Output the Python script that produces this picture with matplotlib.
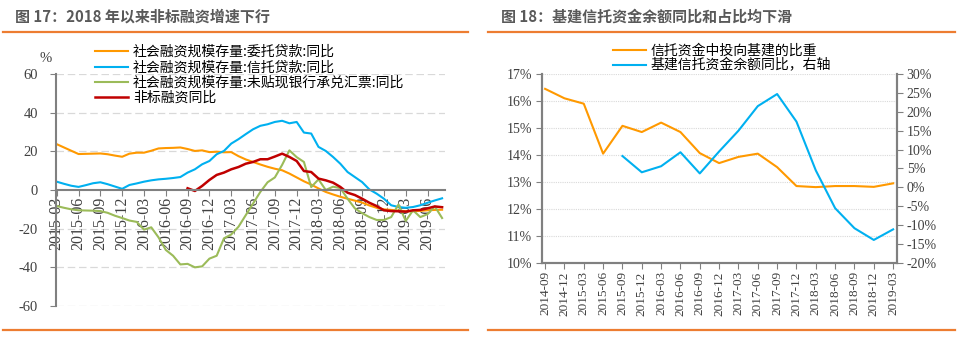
import numpy as np
import matplotlib
matplotlib.use("Agg")
import matplotlib.pyplot as plt
from matplotlib.lines import Line2D

plt.rcParams['font.family'] = ['Noto Sans CJK SC', 'DejaVu Sans']
plt.rcParams['axes.unicode_minus'] = False

# ---- data, figure 17 (monthly, 2015-03 .. 2019-08) ----
months = [f"{y}-{m:02d}" for y in range(2015, 2020) for m in range(1, 13)][2:2 + 54]
entrust = [23.7, 22.0, 20.3, 18.6, 18.7, 18.8, 18.9, 18.5, 17.8, 17.2, 18.8, 19.3,
           19.3, 20.3, 21.5, 21.7, 21.8, 22.0, 21.2, 20.2, 20.5, 19.6, 19.8, 19.5,
           19.6, 17.5, 15.8, 14.5, 13.2, 12.0, 11.0, 10.2, 8.5, 6.5, 4.5, 2.8,
           0.8, -1.0, -2.3, -3.5, -4.5, -5.5, -6.5, -8.0, -9.2, -10.0, -10.3, -10.6,
           -11.0, -11.0, -10.8, -10.5, -10.3, -10.2]
trust = [4.3, 3.2, 2.2, 1.6, 2.5, 3.5, 4.0, 3.0, 1.8, 0.6, 2.6, 3.4,
         4.3, 5.0, 5.5, 5.8, 6.2, 6.7, 9.0, 10.7, 13.3, 15.0, 18.5, 20.2,
         24.0, 26.3, 28.9, 31.4, 33.2, 34.0, 35.2, 35.8, 34.5, 35.2, 29.7, 29.2,
         22.3, 20.2, 17.1, 13.6, 9.3, 6.7, 4.1, 0.3, -1.9, -4.5, -7.9, -8.8,
         -9.2, -8.8, -7.9, -6.6, -5.4, -4.3]
bills = [-8.3, -9.2, -10.0, -10.5, -10.6, -10.7, -10.9, -11.8, -13.3, -14.5, -15.8, -16.5,
         -20.5, -19.3, -24.5, -31.0, -34.0, -38.5, -38.2, -40.0, -39.5, -35.5, -34.0, -25.0,
         -23.0, -19.0, -13.0, -7.0, -1.0, 4.0, 6.5, 13.0, 20.5, 17.0, 14.5, 1.5,
         5.5, 0.0, 1.7, 1.0, -4.5, -9.5, -12.0, -14.0, -15.5, -15.5, -14.0, -7.5,
         -16.0, -10.5, -14.0, -12.5, -8.5, -14.5]
nonstd = [np.nan] * 18 + [0.9, -0.5, 2.1, 5.2, 7.8, 9.0,
          10.7, 11.9, 13.6, 14.5, 15.9, 15.9, 17.3, 18.8, 17.1, 15.0, 9.8, 9.3,
          5.9, 5.0, 3.8, 1.6, -1.4, -2.6, -4.5, -6.6, -8.3, -10.5, -10.9, -11.0,
          -11.2, -10.5, -10.3, -9.5, -8.5, -8.9]

# ---- data, figure 18 (quarterly, 2014-09 .. 2019-03) ----
quarters = ["2014-09", "2014-12", "2015-03", "2015-06", "2015-09", "2015-12",
            "2016-03", "2016-06", "2016-09", "2016-12", "2017-03", "2017-06",
            "2017-09", "2017-12", "2018-03", "2018-06", "2018-09", "2018-12", "2019-03"]
infra_share = [16.45, 16.1, 15.9, 14.05, 15.08, 14.85, 15.2, 14.85, 14.07, 13.7,
               13.93, 14.05, 13.55, 12.85, 12.81, 12.85, 12.85, 12.82, 12.95]
infra_yoy = [np.nan, np.nan, np.nan, np.nan, 8.3, 4.0, 5.6, 9.3, 3.7, 9.5,
             15.0, 21.5, 24.7, 17.4, 4.5, -5.5, -10.8, -13.9, -11.1]

ORANGE = '#FF9900'
BLUE = '#00B0F0'
GREEN = '#9BBB59'
RED = '#C00000'
RULE = '#ED7D31'
AXC = '#808080'
TXT = '#404040'
SERIF = 'Liberation Serif'

W, H = 969, 347
fig = plt.figure(figsize=(W / 100, H / 100), dpi=100)


def box(x0, y0, x1, y1):
    return [x0 / W, 1 - y1 / H, (x1 - x0) / W, (y1 - y0) / H]


# titles and orange rules
fig.text(15 / W, 1 - 17 / H, "图 17：2018 年以来非标融资增速下行", fontsize=10.8,
         fontweight='bold', color='#595959', va='center', ha='left')
fig.text(501 / W, 1 - 17 / H, "图 18：基建信托资金余额同比和占比均下滑", fontsize=10.8,
         fontweight='bold', color='#595959', va='center', ha='left')
for x0, x1 in [(3, 468), (488, 955)]:
    for yy in (32, 330):
        fig.add_artist(Line2D([x0 / W, x1 / W], [1 - yy / H] * 2, color=RULE, lw=1.6))

# ---------------- figure 17 ----------------
ax = fig.add_axes(box(56, 74, 445, 306))
x = np.arange(len(months))
ax.plot(x, entrust, color=ORANGE, lw=1.5, label="社会融资规模存量:委托贷款:同比")
ax.plot(x, trust, color=BLUE, lw=1.5, label="社会融资规模存量:信托贷款:同比")
ax.plot(x, bills, color=GREEN, lw=1.5, label="社会融资规模存量:未贴现银行承兑汇票:同比")
ax.plot(x, nonstd, color=RED, lw=1.8, label="非标融资同比")
ax.set_xlim(-0.1, 53.4)
ax.set_ylim(-60, 60)
ax.set_yticks(range(-60, 61, 20))
for v in (-60, -40, -20, 20, 40, 60):
    ax.axhline(v, color='#D9D9D9', lw=0.9, ls=(0, (6, 3)), zorder=0)
for s in ('top', 'right'):
    ax.spines[s].set_visible(False)
ax.spines['bottom'].set_position(('data', 0))
for s in ('left', 'bottom'):
    ax.spines[s].set_color(AXC)
    ax.spines[s].set_linewidth(1.5)
ax.set_xticks(x[::3])
ax.set_xticklabels(months[::3], rotation=90, family=SERIF, fontsize=11.5, color=TXT)
ax.tick_params(axis='x', direction='out', length=4, color=AXC, pad=1)
ax.tick_params(axis='y', direction='out', length=4, color=AXC, pad=9,
               labelsize=10.5, labelcolor=TXT)
for t in ax.get_yticklabels():
    t.set_family(SERIF)
ax.text(46 / W, 1 - 59 / H, "%", transform=fig.transFigure, family=SERIF,
        fontsize=10.5, color=TXT, ha='center', va='center')
ax.legend(loc='upper left', bbox_to_anchor=(0.1, 1.125), frameon=False, fontsize=10,
          borderpad=0, borderaxespad=0, handlelength=2.4, handletextpad=0.35,
          labelspacing=0.1)

# ---------------- figure 18 ----------------
ax2 = fig.add_axes(box(542, 74, 897, 263))
ax2r = ax2.twinx()
q = np.arange(len(quarters))
l1, = ax2.plot(q, infra_share, color=ORANGE, lw=1.5, label="信托资金中投向基建的比重")
l2, = ax2r.plot(q, infra_yoy, color=BLUE, lw=1.5, label="基建信托资金余额同比，右轴")
ax2.set_xlim(-0.16, 18.2)
ax2.set_ylim(10, 17)
ax2r.set_ylim(-20, 30)
ax2.set_yticks(range(10, 18))
ax2.set_yticklabels([f"{v}%" for v in range(10, 18)], family=SERIF, fontsize=10, color=TXT)
ax2r.set_yticks(range(-20, 31, 5))
ax2r.set_yticklabels([f"{v}%" for v in range(-20, 31, 5)], family=SERIF, fontsize=10,
                     color=TXT)
for v in range(11, 18):
    ax2.axhline(v, color='#D9D9D9', lw=0.8, ls=(0, (1, 1)), zorder=0)
for a in (ax2, ax2r):
    a.spines['top'].set_visible(False)
    for s in ('left', 'right', 'bottom'):
        a.spines[s].set_color(AXC)
        a.spines[s].set_linewidth(1.5)
ax2.set_xticks(q)
ax2.set_xticklabels(quarters, rotation=90, family=SERIF, fontsize=9.5, color=TXT)
ax2.tick_params(axis='x', direction='out', length=4, color=AXC, pad=2)
ax2.tick_params(axis='y', direction='out', length=4, color=AXC, pad=3)
ax2r.tick_params(axis='y', direction='out', length=4, color=AXC, pad=3)
ax2r.legend(handles=[l1, l2], loc='upper left', bbox_to_anchor=(0.2, 1.16),
            frameon=False, fontsize=10, borderpad=0, borderaxespad=0,
            handlelength=2.4, handletextpad=0.3, labelspacing=0.05)

fig.savefig("out.png", dpi=100)
